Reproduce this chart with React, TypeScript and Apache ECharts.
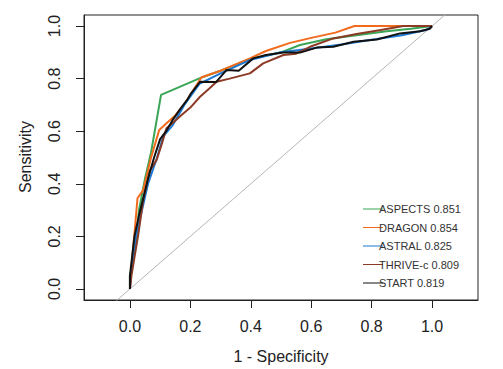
import React, { useEffect, useRef } from "react";
import * as echarts from "echarts";

const tickValues = [0, 0.2, 0.4, 0.6, 0.8, 1.0];

const xTitle = "1 - Specificity";
const yTitle = "Sensitivity";

const seriesNames = ["ASPECTS 0.851", "DRAGON 0.854", "ASTRAL 0.825", "THRIVE-c 0.809", "START 0.819"];
const seriesColors = ["#3aa655", "#f26b1d", "#1c78d3", "#8b3a26", "#111111"];

const aspectsFpr = [0, 0.0, 0.01, 0.02, 0.03, 0.05, 0.07, 0.103, 0.232, 0.3, 0.4, 0.5, 0.563, 0.65, 0.75, 0.85, 0.93, 1.0];
const aspectsTpr = [0, 0.05, 0.1, 0.18, 0.3, 0.42, 0.52, 0.738, 0.802, 0.83, 0.875, 0.9, 0.928, 0.95, 0.965, 0.98, 0.99, 1.0];

const dragonFpr = [0, 0.005, 0.01, 0.018, 0.025, 0.044, 0.07, 0.097, 0.121, 0.15, 0.182, 0.237, 0.3, 0.397, 0.45, 0.53, 0.6, 0.68, 0.743, 1.0];
const dragonTpr = [0, 0.08, 0.15, 0.25, 0.345, 0.376, 0.5, 0.605, 0.63, 0.66, 0.706, 0.805, 0.83, 0.877, 0.905, 0.936, 0.955, 0.975, 1.0, 1.0];

const astralFpr = [0, 0.005, 0.02, 0.04, 0.06, 0.09, 0.11, 0.14, 0.18, 0.23, 0.3, 0.4, 0.5, 0.6, 0.7, 0.8, 0.9, 0.98, 1.0];
const astralTpr = [0, 0.08, 0.2, 0.3, 0.4, 0.5, 0.58, 0.62, 0.7, 0.78, 0.82, 0.872, 0.9, 0.915, 0.93, 0.948, 0.965, 0.985, 1.0];

const thriveFpr = [0, 0.005, 0.015, 0.028, 0.044, 0.066, 0.088, 0.105, 0.121, 0.145, 0.171, 0.2, 0.232, 0.26, 0.287, 0.33, 0.397, 0.441, 0.508, 0.55, 0.596, 0.673, 0.75, 0.83, 0.905, 1.0];
const thriveTpr = [0, 0.05, 0.12, 0.21, 0.338, 0.45, 0.49, 0.55, 0.611, 0.635, 0.662, 0.69, 0.731, 0.76, 0.788, 0.8, 0.82, 0.858, 0.89, 0.895, 0.921, 0.953, 0.97, 0.985, 1.0, 1.0];

const startFpr = [0, 0.0, 0.005, 0.015, 0.03, 0.045, 0.06, 0.08, 0.1, 0.12, 0.14, 0.17, 0.19, 0.2, 0.232, 0.285, 0.32, 0.36, 0.408, 0.45, 0.508, 0.563, 0.618, 0.673, 0.74, 0.817, 0.894, 0.96, 0.993, 1.0];
const startTpr = [0, 0.05, 0.1, 0.2, 0.28, 0.35, 0.42, 0.5, 0.57, 0.6, 0.64, 0.69, 0.72, 0.74, 0.788, 0.787, 0.833, 0.83, 0.877, 0.89, 0.899, 0.899, 0.918, 0.921, 0.94, 0.949, 0.972, 0.98, 0.99, 1.0];

const allFpr = [aspectsFpr, dragonFpr, astralFpr, thriveFpr, startFpr];
const allTpr = [aspectsTpr, dragonTpr, astralTpr, thriveTpr, startTpr];

const diagonal = [-0.3, 1.3];

const FONT = "'Liberation Sans', Arial, sans-serif";

export default function App() {
  const ref = useRef<HTMLDivElement>(null);
  useEffect(() => {
    if (!ref.current) return;
    const chart = echarts.init(ref.current, null, { renderer: "svg" });
    const series: any[] = [
      {
        type: "line",
        name: "diag",
        data: diagonal.map((v) => [v, v]),
        symbol: "none",
        lineStyle: { color: "#b5b5b5", width: 1 },
        clip: true,
        silent: true,
      },
    ];
    seriesNames.forEach((name, i) => {
      series.push({
        type: "line",
        name,
        data: allFpr[i].map((x, j) => [x, allTpr[i][j]]),
        symbol: "none",
        lineStyle: { color: seriesColors[i], width: 2 },
        clip: true,
      });
    });
    const graphicEls: any[] = [
      {
        type: "text",
        x: 281,
        y: 356,
        style: {
          text: xTitle,
          fill: "#222",
          font: `16px ${FONT}`,
          align: "center",
          verticalAlign: "middle",
        },
      },
      {
        type: "text",
        x: 25,
        y: 157,
        rotation: Math.PI / 2,
        style: {
          text: yTitle,
          fill: "#222",
          font: `16px ${FONT}`,
          align: "center",
          verticalAlign: "middle",
        },
      },
    ];
    seriesNames.forEach((name, i) => {
      const y = 209 + 18.5 * i;
      graphicEls.push({
        type: "line",
        shape: { x1: 363, y1: y, x2: 383, y2: y },
        style: { stroke: seriesColors[i], lineWidth: 1 },
      });
      graphicEls.push({
        type: "text",
        x: 379,
        y,
        style: {
          text: name,
          fill: "#333",
          font: `11px ${FONT}`,
          verticalAlign: "middle",
          align: "left",
        },
      });
    });
    chart.setOption({
      animation: false,
      grid: {
        left: 84,
        right: 25,
        top: 15,
        bottom: 69,
        show: true,
        borderColor: "#222",
        borderWidth: 1,
      },
      xAxis: {
        type: "value",
        min: -0.152,
        max: 1.152,
        splitLine: { show: false },
        axisLine: { show: true, onZero: false, lineStyle: { color: "#222" } },
        axisTick: { show: true, customValues: tickValues, length: 8, lineStyle: { color: "#222", width: 1 } },
        axisLabel: {
          customValues: tickValues,
          formatter: (v: number) => v.toFixed(1),
          fontSize: 16,
          margin: 18,
          color: "#222",
          fontFamily: FONT,
        },
      },
      yAxis: {
        type: "value",
        min: -0.042,
        max: 1.042,
        splitLine: { show: false },
        axisLine: { show: true, onZero: false, lineStyle: { color: "#222" } },
        axisTick: { show: true, customValues: tickValues, length: 8, lineStyle: { color: "#222", width: 1 } },
        axisLabel: {
          customValues: tickValues,
          formatter: (v: number) => v.toFixed(1),
          fontSize: 16,
          margin: 22,
          rotate: 90,
          color: "#222",
          fontFamily: FONT,
        },
      },
      series,
      graphic: graphicEls,
    });
    return () => chart.dispose();
  }, []);
  return (
    <div
      ref={ref}
      style={{ position: "fixed", left: 0, top: 0, width: 503, height: 369, background: "#fff" }}
    />
  );
}
